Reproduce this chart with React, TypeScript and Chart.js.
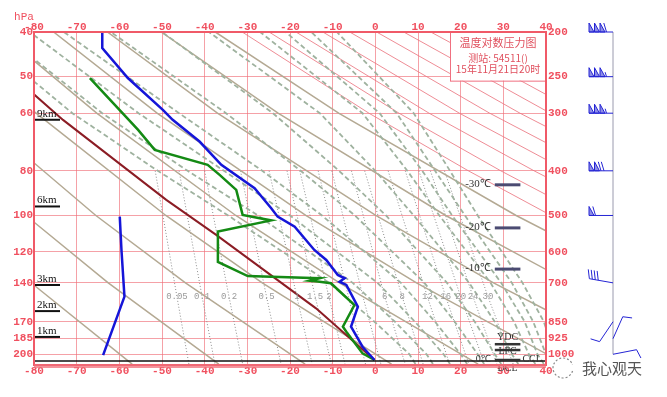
import React, { useEffect, useRef } from "react";
import { Chart, registerables } from "chart.js";

Chart.register(...registerables);

// ---------- axes ----------
const tempTicks = [-80, -70, -60, -50, -40, -30, -20, -10, 0, 10, 20, 30, 40];
const pressureTicks = [200, 250, 300, 400, 500, 600, 700, 850, 925, 1000];
const leftTickLabels = ["40", "50", "60", "80", "100", "120", "140", "170", "185", "200"];

// ---------- sounding ----------
const tempP = [200, 216.7, 251.7, 295, 310, 345.6, 388.3, 436.3, 482.2, 502.9, 528.7, 594, 624.4, 673, 684.2, 696, 707.5, 788.6, 871.5, 963, 1029];
const tempT = [-64.0, -64.0, -58.0, -49.8, -47.5, -41.2, -36.1, -28.3, -24.4, -22.9, -18.9, -14.3, -11.5, -8.8, -7.2, -8.4, -6.8, -4.1, -5.7, -3.0, -0.2];

const dewP = [251.7, 326, 360.3, 388.3, 408.2, 440, 498.6, 512.5, 542, 630.7, 676.5, 684.2, 692.5, 695, 701.5, 782, 871.5, 893.6, 995.5, 1029];
const dewT = [-66.9, -55.6, -51.7, -39.3, -36.5, -32.6, -31.1, -24.4, -36.9, -36.9, -29.9, -13.1, -15.4, -13.5, -10.4, -4.9, -7.6, -6.8, -3.0, -0.2];

const parcelP = [272, 310.2, 462.6, 551, 795, 1029];
const parcelT = [-80.2, -73.2, -49.0, -37.3, -13.9, -0.2];

const auxP = [502.9, 594, 750, 1004];
const auxT = [-59.9, -59.5, -58.8, -63.8];

const surfaceP = 1034;

// ---------- background families ----------
const dryP = [200, 300, 500, 700, 1050];
const dryTanT = [
  [-138.6, -122.0, -98.3, -80.65, -57.0],
  [-125.9, -107.9, -81.9, -62.6, -36.7],
  [-113.3, -93.7, -65.5, -44.5, -16.45],
  [-100.7, -79.5, -49.1, -26.5, 3.8],
  [-88.05, -65.3, -32.7, -8.4, 24.1],
  [-75.4, -51.15, -16.3, 9.65, 44.4],
  [-62.8, -37.0, 0.1, 27.7, 64.7],
  [-50.2, -22.8, 16.5, 45.8, 85.0],
  [-37.5, -8.6, 33.0, 63.8, 105.3],
];
const dryPinkP = [200, 300, 400, 500];
const dryPinkT = [
  [-31.2, -1.5, 21.8, 41.2],
  [-24.9, 5.55, 29.4, 49.3],
  [-18.6, 12.6, 37.2, 57.6],
  [-12.3, 19.7, 44.9, 65.8],
  [-6.0, 26.8, 52.6, 74.0],
  [0.3, 33.9, 60.2, 82.2],
  [6.65, 41.0, 68.0, 90.4],
  [13.0, 48.1, 75.7, 98.6],
  [19.3, 55.2, 83.3, 106.8],
  [25.6, 62.3, 91.0, 115.0],
];
const moistP = [1050, 1000, 850, 700, 500, 400, 300, 200];
const moistT = [
  [9.4, 8, -0.2, -10.8, -34.5, -51, -71, -94],
  [13.5, 12, 4.6, -5.3, -27.5, -44, -64, -88],
  [17.5, 16, 9.3, 0.5, -20, -35.5, -55.5, -81],
  [21.5, 20, 14, 6, -12.5, -26.5, -46, -73],
  [25.5, 24, 18.6, 11.5, -4.8, -17.5, -35, -62],
  [29.5, 28, 23.3, 16.8, 2.5, -8.5, -24, -50],
  [33.5, 32, 28, 22, 9, 0, -13, -39],
  [37.5, 36, 32.5, 27, 15, 7.5, -3, -27],
  [39.5, 38, 35, 29.5, 18, 11, 1, -21],
  [41.5, 40, 37, 32, 21, 14, 5, -15],
  [43.5, 42, 39.5, 34.5, 24, 17.5, 9, -9],
];
const mixP = [400, 750, 1050];
const mixLabels = ["0.05", "0.1", "0.2", "0.5", "1", "1.5", "2", "", "", "6", "8", "12", "16", "20", "24", "30"];
const mixT = [
  [-51.6, -46.5, -43.7],
  [-46.0, -40.6, -37.6],
  [-40.0, -34.3, -31.1],
  [-31.6, -25.5, -22.1],
  [-24.9, -18.4, -14.8],
  [-20.7, -14.1, -10.3],
  [-17.7, -10.9, -7.1],
  [-13.4, -6.3, -2.3],
  [-10.2, -2.9, 1.3],
  [-5.6, 2.2, 7.0],
  [-2.5, 6.3, 11.2],
  [3.0, 12.2, 17.4],
  [7.0, 16.5, 21.9],
  [10.2, 20.0, 25.6],
  [12.9, 22.9, 28.5],
  [16.2, 26.4, 32.3],
];

// ---------- annotations ----------
const kmLabels = ["9km", "6km", "3km", "2km", "1km"];
const kmP = [310, 478, 707.5, 806, 917];
const isoLabels = ["-30℃", "-20℃", "-10℃"];
const isoP = [429, 532, 653.5];
const levelP = [951, 979, 1029];

// ---------- wind ----------
const windP = [200, 250, 300, 400, 500, 700, 850, 925, 1000];
const windDir = [270, 270, 270, 270, 270, 280, 214, 24, 79];
const windSpd = [64, 62, 62, 48, 24, 16, 4, 4, 4];

const titleLines = ["温度对数压力图", "测站: 54511()", "15年11月21日20时"];

const PINK = "#f0505f";
const GRID = "rgba(240,110,120,0.65)";

function mk(ts: number[], ps: number[], color: string, width: number, dash: number[], order: number) {
  return {
    data: ps.map((p, i) => ({ x: ts[i], y: p })),
    borderColor: color,
    borderWidth: width,
    borderDash: dash,
    pointRadius: 0,
    fill: false,
    tension: 0,
    order,
  };
}

function drawBarb(ctx: CanvasRenderingContext2D, x: number, y: number, dir: number, spd: number) {
  const rad = (dir * Math.PI) / 180;
  const ux = Math.sin(rad), uy = -Math.cos(rad);
  const len = 24;
  const tx = x + ux * len, ty = y + uy * len;
  const qx = -uy, qy = ux;
  const L = 9;
  ctx.beginPath();
  ctx.moveTo(x, y);
  ctx.lineTo(tx, ty);
  ctx.stroke();
  let s = spd;
  let d = 0;
  while (s >= 20) {
    const bx = tx - ux * d, by = ty - uy * d;
    const cx = tx - ux * (d + 5), cy = ty - uy * (d + 5);
    ctx.beginPath();
    ctx.moveTo(bx, by);
    ctx.lineTo(bx + qx * L, by + qy * L);
    ctx.lineTo(cx, cy);
    ctx.closePath();
    ctx.fill();
    ctx.stroke();
    d += 5.5;
    s -= 20;
  }
  if (d > 0) d += 1;
  while (s >= 4) {
    const bx = tx - ux * d, by = ty - uy * d;
    ctx.beginPath();
    ctx.moveTo(bx, by);
    ctx.lineTo(bx + qx * L + ux * L * 0.3, by + qy * L + uy * L * 0.3);
    ctx.stroke();
    d += 3;
    s -= 4;
  }
  if (s >= 2) {
    const bx = tx - ux * d, by = ty - uy * d;
    ctx.beginPath();
    ctx.moveTo(bx, by);
    ctx.lineTo(bx + qx * L * 0.5 + ux * L * 0.15, by + qy * L * 0.5 + uy * L * 0.15);
    ctx.stroke();
  }
}

const overlay = {
  id: "overlay",
  afterDatasetsDraw(chart: any) {
    const { ctx, chartArea: a, scales } = chart;
    const px = (t: number) => scales.x.getPixelForValue(t);
    const py = (p: number) => scales.y.getPixelForValue(p);
    ctx.save();

    // mixing ratio labels
    ctx.font = '9px "Liberation Mono"';
    ctx.fillStyle = "#9a9a9a";
    ctx.textAlign = "center";
    ctx.textBaseline = "middle";
    mixLabels.forEach((lab, i) => {
      if (lab) ctx.fillText(lab, px(mixT[i][1]), py(750));
    });

    // surface line
    ctx.strokeStyle = "#111";
    ctx.lineWidth = 1.5;
    ctx.beginPath();
    ctx.moveTo(a.left, py(surfaceP));
    ctx.lineTo(a.right, py(surfaceP));
    ctx.stroke();

    // km markers
    ctx.font = '11px "Liberation Serif"';
    ctx.fillStyle = "#111";
    ctx.textAlign = "left";
    ctx.textBaseline = "alphabetic";
    kmLabels.forEach((lab, i) => {
      const y = py(kmP[i]);
      ctx.lineWidth = 2;
      ctx.strokeStyle = "#111";
      ctx.beginPath();
      ctx.moveTo(a.left, y);
      ctx.lineTo(a.left + 26, y);
      ctx.stroke();
      ctx.fillText(lab, a.left + 3, y - 3);
    });

    // isotherm height markers
    ctx.font = '11px "Liberation Serif"';
    ctx.fillStyle = "#333";
    ctx.textAlign = "right";
    ctx.textBaseline = "middle";
    isoLabels.forEach((lab, i) => {
      const y = py(isoP[i]);
      ctx.fillText(lab, px(28) - 4, y - 1);
      ctx.strokeStyle = "#4b4b72";
      ctx.lineWidth = 3;
      ctx.beginPath();
      ctx.moveTo(px(28), y);
      ctx.lineTo(px(34), y);
      ctx.stroke();
    });

    // bottom level markers
    ctx.strokeStyle = "#333";
    ctx.lineWidth = 2.5;
    levelP.forEach((p) => {
      const y = py(p);
      ctx.beginPath();
      ctx.moveTo(px(28), y);
      ctx.lineTo(px(34), y);
      ctx.stroke();
    });
    ctx.font = '10px "Liberation Serif"';
    ctx.fillStyle = "#333";
    ctx.textAlign = "center";
    const mx = px(31);
    ctx.fillText("YDC", mx, py(levelP[0]) - 7);
    ctx.fillText("LFC", mx, py(levelP[1]) + 1);
    ctx.fillText("DCL", mx, py(levelP[2]) + 8);
    ctx.textAlign = "right";
    ctx.fillText("0℃", px(28) - 4, py(levelP[2]) - 1);
    ctx.textAlign = "left";
    ctx.fillText("CCL", px(34) + 2, py(levelP[2]) - 1);

    // title box
    const bx0 = px(17.5), bx1 = a.right, by0 = a.top, by1 = py(255);
    ctx.fillStyle = "#fff";
    ctx.fillRect(bx0, by0, bx1 - bx0, by1 - by0);
    ctx.strokeStyle = "#f07080";
    ctx.lineWidth = 1;
    ctx.strokeRect(bx0 + 0.5, by0 + 0.5, bx1 - bx0, by1 - by0);
    ctx.fillStyle = "#e0505e";
    ctx.textAlign = "center";
    ctx.textBaseline = "middle";
    const cxT = (bx0 + bx1) / 2;
    ctx.font = '11px "Noto Sans CJK SC"';
    ctx.fillText(titleLines[0], cxT, by0 + 11);
    ctx.font = '10px "Noto Sans CJK SC"';
    ctx.fillText(titleLines[1], cxT, by0 + 26);
    ctx.fillText(titleLines[2], cxT, by0 + 37);

    // plot border
    ctx.strokeStyle = "#f05a68";
    ctx.lineWidth = 2;
    ctx.strokeRect(a.left, a.top, a.right - a.left, a.bottom - a.top);
    ctx.fillStyle = "rgba(240,110,120,0.75)";
    ctx.fillRect(a.left, a.bottom - 1, a.right - a.left, 4);

    // wind barbs
    const sx = a.right + 67;
    ctx.strokeStyle = "#9a9aae";
    ctx.lineWidth = 1;
    ctx.beginPath();
    ctx.moveTo(sx, py(200));
    ctx.lineTo(sx, py(1000));
    ctx.stroke();
    ctx.strokeStyle = "#2424d4";
    ctx.fillStyle = "rgba(50,50,210,0.55)";
    ctx.lineWidth = 1;
    windP.forEach((p, i) => drawBarb(ctx, sx, py(p), windDir[i], windSpd[i]));

    // hPa
    ctx.font = '11px "Liberation Mono"';
    ctx.fillStyle = PINK;
    ctx.textAlign = "center";
    ctx.textBaseline = "middle";
    ctx.fillText("hPa", 24, 17);

    // watermark
    ctx.strokeStyle = "#8a8a8a";
    ctx.setLineDash([2, 2]);
    ctx.lineWidth = 1.2;
    ctx.beginPath();
    ctx.arc(563, 368, 10, 0.3, Math.PI * 1.9);
    ctx.stroke();
    ctx.setLineDash([]);
    ctx.font = '15px "Noto Sans CJK SC"';
    ctx.fillStyle = "#555";
    ctx.textAlign = "left";
    ctx.fillText("我心观天", 582, 368);

    ctx.restore();
  },
};

export default function App() {
  const ref = useRef<HTMLCanvasElement | null>(null);
  useEffect(() => {
    if (!ref.current) return;
    const datasets: any[] = [
      mk(tempT, tempP, "#1515d8", 2.5, [], 0),
      mk(dewT, dewP, "#148a14", 2.5, [], 0),
      mk(parcelT, parcelP, "#8b1c24", 2, [], 1),
      mk(auxT, auxP, "#1515d8", 2.5, [], 1),
    ];
    dryTanT.forEach((r) => datasets.push(mk(r, dryP, "#b4a993", 1.5, [], 10)));
    dryPinkT.forEach((r) => datasets.push(mk(r, dryPinkP, "rgba(235,120,130,0.85)", 1, [], 10)));
    moistT.forEach((r) => datasets.push(mk(r, moistP, "#9fb29f", 1.8, [5, 3], 9)));
    mixT.forEach((r) => datasets.push(mk(r, mixP, "#8c8c8c", 1, [1, 2], 11)));

    const tickFont = { family: '"Liberation Mono"', size: 11, weight: "bold" as const };
    const chart = new Chart(ref.current, {
      type: "line",
      data: { datasets },
      options: {
        responsive: false,
        maintainAspectRatio: false,
        animation: false,
        layout: { padding: 0 },
        plugins: { legend: { display: false }, tooltip: { enabled: false } },
        scales: {
          x: {
            type: "linear",
            position: "bottom",
            min: -80,
            max: 40,
            afterBuildTicks: (s: any) => { s.ticks = tempTicks.map((v) => ({ value: v })); },
            afterFit: (s: any) => { s.height = 32; },
            grid: { color: GRID, lineWidth: 1, drawTicks: false },
            border: { display: false },
            ticks: { color: PINK, font: tickFont, padding: 0, maxRotation: 0, autoSkip: false, callback: (v: any) => String(v) },
          },
          xTop: {
            type: "linear",
            position: "top",
            min: -80,
            max: 40,
            afterBuildTicks: (s: any) => { s.ticks = tempTicks.map((v) => ({ value: v })); },
            afterFit: (s: any) => { s.height = 32; },
            grid: { display: false, drawTicks: false },
            border: { display: false },
            ticks: { color: PINK, font: tickFont, padding: -2, maxRotation: 0, autoSkip: false, callback: (v: any) => String(v) },
          },
          y: {
            type: "logarithmic",
            position: "left",
            reverse: true,
            min: 200,
            max: 1055,
            afterBuildTicks: (s: any) => { s.ticks = pressureTicks.map((v) => ({ value: v })); },
            afterFit: (s: any) => { s.width = 34; },
            grid: { color: GRID, lineWidth: 1, drawTicks: false },
            border: { display: false },
            ticks: { color: PINK, font: tickFont, padding: 1, autoSkip: false, callback: (_v: any, i: number) => leftTickLabels[i] },
          },
          yRight: {
            type: "logarithmic",
            position: "right",
            reverse: true,
            min: 200,
            max: 1055,
            afterBuildTicks: (s: any) => { s.ticks = pressureTicks.map((v) => ({ value: v })); },
            afterFit: (s: any) => { s.width = 121; },
            grid: { display: false, drawTicks: false },
            border: { display: false },
            ticks: { color: PINK, font: tickFont, padding: 2, autoSkip: false, callback: (v: any) => String(v) },
          },
        },
      } as any,
      plugins: [overlay],
    });
    return () => chart.destroy();
  }, []);
  return (
    <div style={{ position: "absolute", left: 0, top: 0, width: 667, height: 397, background: "#fff" }}>
      <canvas ref={ref} width={667} height={397} style={{ display: "block" }} />
    </div>
  );
}
